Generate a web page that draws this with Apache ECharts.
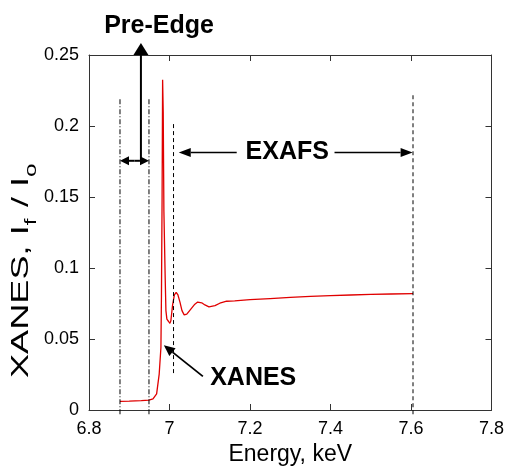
<!DOCTYPE html>
<html><head><meta charset="utf-8">
<script src="https://cdn.jsdelivr.net/npm/echarts@6/dist/echarts.min.js"></script>
<style>html,body{margin:0;padding:0;background:#fff}#c{width:507px;height:471px}</style>
</head><body><div id="c"></div>
<script>
// ---- data ----
const energy = [6.877, 6.90, 6.93, 6.949, 6.959, 6.968, 6.9744, 6.9787, 6.980, 6.9816, 6.9829,
  6.9844, 6.9861, 6.9893, 6.9911, 6.9935, 6.9973, 7.001, 7.0035, 7.0077, 7.0122, 7.0166,
  7.021, 7.026, 7.031, 7.0365, 7.043, 7.053, 7.063, 7.070, 7.080, 7.088, 7.098, 7.113,
  7.125, 7.142, 7.162, 7.2, 7.25, 7.3, 7.35, 7.4, 7.45, 7.5, 7.55, 7.605];
const signal = [0.0061, 0.0063, 0.0066, 0.0070, 0.0079, 0.0114, 0.0253, 0.044, 0.080, 0.150, 0.2325,
  0.210, 0.140, 0.093, 0.070, 0.064, 0.0625, 0.061, 0.063, 0.074, 0.081, 0.0829,
  0.081, 0.076, 0.070, 0.067, 0.0675, 0.071, 0.0745, 0.076, 0.0755, 0.074, 0.0726, 0.0735,
  0.0752, 0.0766, 0.0768, 0.0777, 0.0785, 0.0793, 0.0800, 0.0805, 0.0810, 0.0814, 0.0817, 0.0820];

// annotation anchors in data units
const guideX = [6.877, 6.949, 7.01, 7.605];
const guideTop = [0.219, 0.219, 0.2025, 0.2228];
const guideBottom = [-0.003, -0.003, 0.026, -0.003];
const labelTexts = ['Pre-Edge', 'EXAFS', 'XANES'];
const labelPos = [[6.974, 0.2703], [7.2926, 0.1819], [7.208, 0.0223]];

const FONT = '"Liberation Sans", Arial, sans-serif';
const chart = echarts.init(document.getElementById('c'), null, {renderer: 'canvas'});
const axisColor = '#333';
const data = energy.map((e, i) => [e, signal[i]]);

chart.setOption({
  animation: false,
  backgroundColor: '#fff',
  grid: {left: 89, right: 15, top: 55, bottom: 58, containLabel: false},
  xAxis: [{
    type: 'value', min: 6.8, max: 7.8, interval: 0.2,
    name: 'Energy, keV', nameLocation: 'middle', nameGap: 33,
    nameTextStyle: {fontSize: 23, color: '#000', fontFamily: FONT},
    axisLine: {show: true, lineStyle: {color: axisColor, width: 1}},
    axisTick: {show: true, inside: true, length: 6, lineStyle: {color: axisColor}},
    axisLabel: {fontSize: 18, color: '#000', fontFamily: FONT, margin: 10},
    splitLine: {show: false}
  }, {
    type: 'value', min: 6.8, max: 7.8, interval: 0.2, position: 'top',
    axisLine: {show: true, onZero: false, lineStyle: {color: axisColor, width: 1}},
    axisTick: {show: true, inside: true, length: 6, lineStyle: {color: axisColor}},
    axisLabel: {show: false}, splitLine: {show: false}
  }],
  yAxis: [{
    type: 'value', min: 0, max: 0.25, interval: 0.05,
    axisLine: {show: true, lineStyle: {color: axisColor, width: 1}},
    axisTick: {show: true, inside: true, length: 6, lineStyle: {color: axisColor}},
    axisLabel: {fontSize: 18, color: '#000', fontFamily: FONT, margin: 10},
    splitLine: {show: false}
  }, {
    type: 'value', min: 0, max: 0.25, interval: 0.05, position: 'right',
    axisLine: {show: true, onZero: false, lineStyle: {color: axisColor, width: 1}},
    axisTick: {show: true, inside: true, length: 6, lineStyle: {color: axisColor}},
    axisLabel: {show: false}, splitLine: {show: false}
  }],
  series: [{
    type: 'line', data: data, showSymbol: false, symbol: 'none',
    lineStyle: {color: '#e00000', width: 1.3}, itemStyle: {color: '#e00000'},
    clip: false
  }]
});

function px(x, y) { return chart.convertToPixel({xAxisIndex: 0, yAxisIndex: 0}, [x, y]); }

const g = [];
guideX.forEach((x, i) => {
  const a = px(x, guideBottom[i]), b = px(x, guideTop[i]);
  g.push({type: 'line', shape: {x1: a[0], y1: a[1], x2: b[0], y2: b[1]},
    style: {stroke: '#000', lineWidth: 1, lineDash: i < 2 ? [5, 2, 1, 2] : [4, 3]}, z: 10});
});

function arrow(from, to, headLen, headHalf, width) {
  const p = px(from[0], from[1]), q = px(to[0], to[1]);
  const dx = q[0] - p[0], dy = q[1] - p[1], L = Math.hypot(dx, dy);
  const ux = dx / L, uy = dy / L;
  const bx = q[0] - ux * headLen, by = q[1] - uy * headLen;
  g.push({type: 'line', shape: {x1: p[0], y1: p[1], x2: bx, y2: by},
    style: {stroke: '#000', lineWidth: width}, z: 11});
  g.push({type: 'polygon', shape: {points: [[q[0], q[1]], [bx - uy * headHalf, by + ux * headHalf], [bx + uy * headHalf, by - ux * headHalf]]},
    style: {fill: '#000'}, z: 11});
}
arrow([6.929, 0.1755], [6.929, 0.2584], 12, 7.5, 2);
arrow([6.913, 0.1755], [6.877, 0.1755], 9, 4.5, 2);
arrow([6.913, 0.1755], [6.949, 0.1755], 9, 4.5, 2);
arrow([7.167, 0.1814], [7.023, 0.1814], 12, 4.5, 1.5);
arrow([7.410, 0.1814], [7.604, 0.1814], 12, 4.5, 1.5);
arrow([7.083, 0.0237], [6.986, 0.0456], 11, 5, 1.8);

labelTexts.forEach((t, i) => {
  const p = px(labelPos[i][0], labelPos[i][1]);
  g.push({type: 'text', x: p[0], y: p[1], z: 12,
    style: {text: t, font: 'bold 25px ' + FONT, fill: '#000', align: 'center', verticalAlign: 'middle'}});
});

// y-axis title with subscripts, rotated
const mc = document.createElement('canvas').getContext('2d');
const mainFont = '24px ' + FONT, subFont = '16px ' + FONT;
const parts = [['XANES, I', false], ['f', true], [' / I', false], ['o', true]];
let cum = 0; const kids = [];
parts.forEach(([t, sub]) => {
  mc.font = sub ? subFont : mainFont;
  kids.push({type: 'text', x: cum, y: sub ? 11 : 0,
    style: {text: t, font: sub ? subFont : mainFont, fill: '#000', align: 'left', verticalAlign: 'middle'}});
  cum += mc.measureText(t).width + (sub ? 1 : 0);
});
const spanBottom = 378, spanTop = 162;
const stretch = (spanBottom - spanTop) / cum;
g.push({type: 'group', x: 21, y: spanBottom, rotation: Math.PI / 2, scaleX: stretch, scaleY: 1, children: kids, z: 12});

chart.setOption({graphic: g});
</script>
</body></html>
